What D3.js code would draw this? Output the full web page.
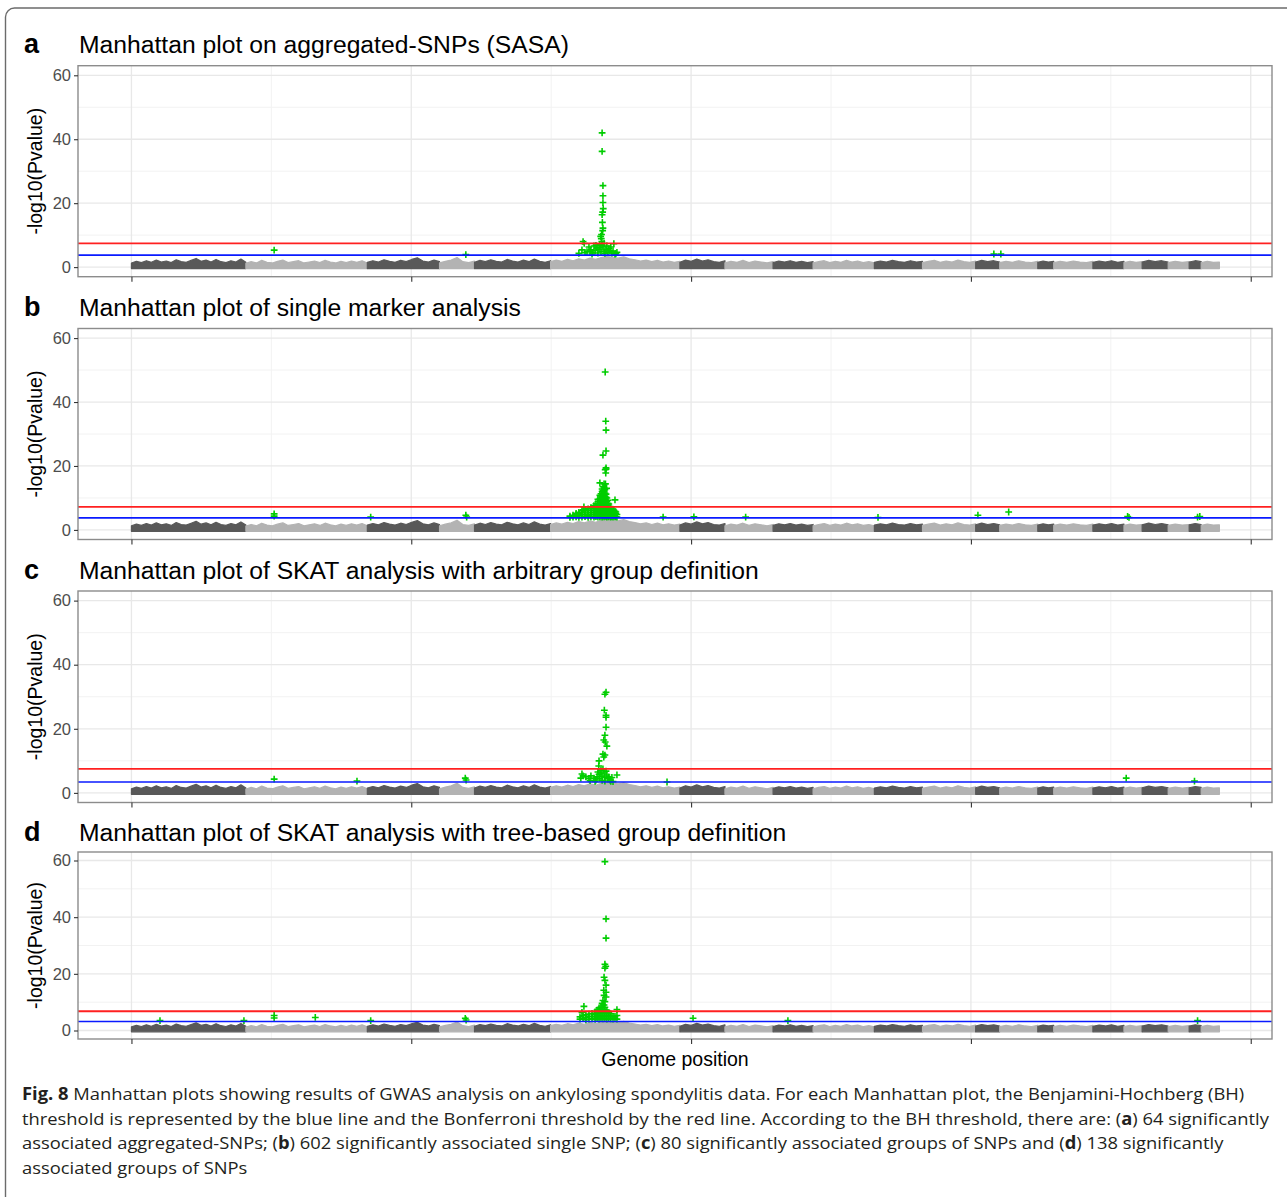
<!DOCTYPE html>
<html><head><meta charset="utf-8">
<script src="https://cdn.jsdelivr.net/npm/d3@7"></script>
<style>body{margin:0;background:#fff} svg{display:block}</style>
</head><body>
<svg id="chart" width="1287" height="1197"></svg>
<script>
// ---------------- DATA ----------------
const chromosomes = ["1","2","3","4","5","6","7","8","9","10","11","12","13","14","15","16","17","18","19","20","21","22"];
// number of markers per chromosome (thousands)
const chromSizes = [40.9, 43.4, 25.8, 12.5, 27.2, 46.2, 16.1, 17.2, 14.3, 21.9, 17.2, 19.0, 8.6, 13.6, 5.7, 14.0, 11.1, 6.5, 9.3, 7.5, 4.3, 6.5];
// upper envelope of the non-significant markers (-log10 p), sampled along each chromosome
const bandTop = [
  [1.3,1.8,1.4,2.0,1.5,2.2,1.6,1.9,1.4,2.3,1.7,1.5,2.1,2.7,1.8,2.2,1.6,2.4,1.7,1.4,2.0,1.6,2.5,1.5],
  [1.2,1.7,1.3,2.1,1.5,1.3,1.8,2.2,1.4,1.7,2.0,1.3,1.6,1.9,1.4,2.1,1.6,1.3,1.8,1.4,1.9,1.5,2.0,1.3],
  [1.5,2.0,1.6,2.3,1.8,1.5,2.1,1.7,2.4,2.9,1.9,1.6,2.2,1.7],
  [1.3,1.8,2.2,3.0,1.7,1.4,1.9],
  [1.5,2.1,1.7,2.3,1.8,1.6,2.4,1.9,1.6,2.2,1.7,2.5,1.8,1.5,2.0],
  [1.7,2.2,1.8,2.4,2.0,2.6,2.2,2.8,2.4,3.0,3.3,3.1,2.8,3.2,2.6,2.3,1.9,2.2,1.7,2.1,1.6,1.9,1.5,1.8],
  [1.5,2.2,1.8,2.5,1.9,2.3,1.7,1.5,2.0],
  [1.3,1.8,1.5,2.1,1.4,1.9,1.6,1.3,1.7],
  [1.4,1.9,1.6,2.0,1.5,1.8,1.4,1.7],
  [1.3,1.7,2.0,1.4,1.8,1.5,2.1,1.6,1.9,1.4,1.7,1.3],
  [1.5,1.9,1.6,2.1,1.7,1.5,2.0,1.6,1.8],
  [1.4,1.8,2.1,1.5,1.9,1.6,2.2,1.7,1.5,1.9],
  [1.6,2.1,1.7,2.0,1.6],
  [1.4,1.8,1.5,2.0,1.6,1.4,1.8],
  [1.5,1.9,1.6,1.8],
  [1.4,1.8,1.5,1.9,1.6,1.4,1.8],
  [1.5,1.9,1.6,2.0,1.5,1.8],
  [1.4,1.8,1.5,1.7],
  [1.6,2.1,1.7,2.0,1.6],
  [1.4,1.8,1.5,1.7],
  [1.6,2.0,1.7],
  [1.4,1.8,1.5,1.6]
];

const panelLetters = ["a","b","c","d"];
const panelTitles = [
  "Manhattan plot on aggregated-SNPs (SASA)",
  "Manhattan plot of single marker analysis",
  "Manhattan plot of SKAT analysis with arbitrary group definition",
  "Manhattan plot of SKAT analysis with tree-based group definition"
];
const bhThreshold   = [3.75, 3.75, 3.4, 3.2];
const bonfThreshold = [7.45, 7.2, 7.5, 6.8];

const yTicks = [0, 20, 40, 60];
const yMinor = [10, 30, 50];
const xTicks = [0, 100, 200, 300, 400];   // genome position (thousands of markers), labels blank
const xMinor = [50, 150, 250, 350];
const xLimits = [-19.1, 407.6];
const yLimits = [-3, 63];

// significant markers: [position, -log10 p]
const sigA = [
  [51.0,5.3],[119.5,3.9],[308.2,4.1],[310.7,4.1],
  [168.2,42.0],[168.2,36.2],[168.5,25.5],[168.5,22.3],[168.5,20.2],[168.6,18.3],[168.4,17.2],[168.2,16.4],
  [168.3,14.0],[168.5,12.2],[168.4,11.4],[168.0,10.2],[167.7,9.6],[167.9,8.9],[168.1,8.0],[161.4,8.0],
  [161.8,7.4],[163.5,6.3],[164.2,5.4],[165.3,6.6],[166.4,6.0],[167.4,7.0],[168.5,6.3],[169.9,6.6],
  [171.0,5.1],[171.3,6.3],[172.4,7.3],[173.1,4.2],[159.9,4.3],[161.0,5.4],[162.8,4.8],[163.9,5.0],
  [164.9,4.6],[165.7,5.2],[166.7,4.4],[167.1,5.6],[167.8,4.8],[168.9,5.0],[169.2,4.3],[169.6,5.5],
  [170.3,4.6],[170.6,5.8],[171.7,4.4],[172.1,5.0],[172.8,4.1],[173.5,4.6],[166.0,6.8],[167.4,6.2],
  [168.2,6.8],[168.9,7.4],[164.6,4.1],[162.1,4.5]
];
const sigB = [
  [51.0,5.0],[51.0,4.3],[85.5,4.0],[119.5,4.6],[119.8,4.0],[190.0,4.0],[201.0,4.1],[219.5,4.0],
  [266.8,3.9],[302.5,4.6],[313.5,5.6],[356.0,4.2],[356.5,3.9],[381.0,4.0],[381.8,4.2],
  [169.3,49.4],[169.5,34.0],[169.6,31.2],[169.6,24.7],[168.5,23.4],[169.6,19.4],[169.3,18.8],[169.5,17.8],
  [169.6,19.0],[167.4,14.7],[169.4,14.4],[169.8,13.0],[172.8,9.4],[161.7,7.2],[161.4,6.3]
];
// dense part of the single-marker peak: [position, values...]
const sigBCluster = [
  [156.7,3.9,4.3],[157.8,4.0,4.6],[158.9,4.1,4.8,5.2],[159.9,3.9,4.5,5.0,5.5],
  [161.0,4.0,4.7,5.4,6.0],[162.1,4.2,4.9,5.6,6.3],[163.2,3.9,4.6,5.3,6.0,6.6],
  [164.2,4.1,4.8,5.5,6.2,7.0],[165.3,4.0,4.7,5.4,6.1,6.8,7.6],[166.0,4.2,5.0,5.8,6.6,7.4,8.2],
  [166.7,4.0,4.8,5.6,6.4,7.2,8.0,8.9,9.6],[167.4,4.1,4.9,5.7,6.5,7.3,8.1,8.9,9.8,10.8],
  [167.8,4.3,5.3,6.3,7.3,8.3,9.3,10.3,11.3],[168.2,4.0,5.0,6.0,7.0,8.0,9.0,10.0,11.0,12.0,12.8],
  [168.5,4.4,5.4,6.4,7.4,8.4,9.4,10.4,11.4,12.4,13.5],[168.9,4.1,5.1,6.1,7.1,8.1,9.1,10.1,11.1,12.1,13.1,14.4],
  [169.2,4.5,5.5,6.5,7.5,8.5,9.5,10.5,11.5,12.6],[169.6,4.2,5.2,6.2,7.2,8.2,9.2,10.2,11.2],
  [169.9,4.0,5.0,6.0,7.0,8.0,9.0,10.0],[170.3,4.3,5.3,6.3,7.3,8.3,9.3],[170.6,4.1,5.1,6.1,7.1,8.1],
  [171.0,4.4,5.4,6.4,7.3],[171.3,4.0,5.0,6.0,6.9],[171.7,4.2,5.2,6.2],[172.1,4.0,5.0,5.9],
  [172.4,4.3,5.3,6.1],[172.8,4.1,5.1,5.8],[173.1,4.2,5.0,5.6],[173.5,4.0,4.8]
];
const sigC = [
  [51.0,4.3],[80.6,3.7],[119.3,4.6],[119.6,4.0],[191.4,3.4],[355.5,4.6],[379.9,3.7],
  [169.6,31.4],[169.2,30.8],[169.0,25.8],[169.6,24.2],[169.6,23.6],[169.6,20.5],[169.2,18.0],[168.8,16.5],
  [169.3,15.9],[169.9,14.6],[168.5,12.1],[169.2,11.8],[168.8,11.2],[167.1,10.0],[167.0,8.4],[167.8,7.1],
  [161.0,5.9],[161.4,5.3],[162.4,5.0],[163.5,4.4],[164.2,5.3],[165.3,4.6],[166.4,5.0],[167.1,5.8],
  [167.4,4.5],[168.2,5.2],[168.9,6.2],[169.2,4.8],[169.9,5.6],[170.3,4.4],[171.0,4.0],[171.3,3.6],
  [172.1,3.5],[173.5,5.6],[166.7,6.5],[168.5,7.5],[167.8,6.2],[169.6,6.8],[170.6,5.0],[160.6,4.6],
  [163.9,3.8],[165.7,3.6],[168.2,3.9],[169.2,3.7],[171.7,4.8],[166.0,4.0]
];
const sigD = [
  [10.2,3.5],[40.2,3.5],[51.0,5.3],[51.0,4.4],[65.7,4.6],[85.5,3.5],[119.3,4.3],[119.6,3.7],
  [200.7,4.3],[234.6,3.5],[381.0,3.5],
  [169.2,59.6],[169.6,39.4],[169.6,32.6],[169.2,23.4],[169.5,22.7],[169.2,22.0],[168.9,18.8],[169.2,17.7],
  [169.6,16.0],[168.8,14.2],[169.6,13.5],[168.9,12.4],[169.6,11.8],[168.5,10.6],[169.2,10.2],[168.2,9.6],
  [168.9,9.0],[161.7,8.5],[161.0,6.4],[173.5,7.4]
];
const sigDCluster = [
  [160.3,4.0,4.8],[161.4,4.2,5.2],[162.4,3.8,4.6,5.5],[163.5,4.0,4.9,5.8],[164.6,4.1,5.0,6.0],
  [165.7,3.9,4.8,5.7,6.6],[166.4,4.2,5.2,6.2,7.2],[167.1,4.0,5.0,6.0,7.0,8.0],[167.8,4.3,5.3,6.3,7.3,8.3],
  [168.5,4.1,5.1,6.1,7.1,8.1,9.0],[169.2,4.2,5.2,6.2,7.2,8.2],[169.9,4.0,5.0,6.0,7.0],[170.6,4.3,5.3,6.3],
  [171.3,4.1,5.1,5.9],[172.1,4.0,4.9],[172.8,4.2,5.0],[173.5,4.0,5.3]
];

const captionLines = [
  [["Fig. 8", true], [" Manhattan plots showing results of GWAS analysis on ankylosing spondylitis data. For each Manhattan plot, the Benjamini-Hochberg (BH)", false]],
  [["threshold is represented by the blue line and the Bonferroni threshold by the red line. According to the BH threshold, there are: (", false], ["a", true], [") 64 significantly", false]],
  [["associated aggregated-SNPs; (", false], ["b", true], [") 602 significantly associated single SNP; (", false], ["c", true], [") 80 significantly associated groups of SNPs and (", false], ["d", true], [") 138 significantly", false]],
  [["associated groups of SNPs", false]]
];

// ---------------- DRAW ----------------
const flatten = cl => cl.flatMap(c => c.slice(1).map(v => [c[0], v]));
const sigSets = [sigA, sigB.concat(flatten(sigBCluster)), sigC, sigD.concat(flatten(sigDCluster))];

const svg = d3.select("#chart");
const sansA = "'Liberation Sans', Arial, Helvetica, sans-serif";

svg.append("rect").attr("x", 5.5).attr("y", 8).attr("width", 1320).attr("height", 1230)
  .attr("rx", 9).attr("fill", "none").attr("stroke", "#6b6b6b").attr("stroke-width", 1.4);

const layout = [
  {top: 65.7, bottom: 276.7, title: 53},
  {top: 328.5, bottom: 539.5, title: 316},
  {top: 591.0, bottom: 802.5, title: 579},
  {top: 852.0, bottom: 1039.0, title: 841}
];
const left = 78, right = 1272;
const x = d3.scaleLinear().domain(xLimits).range([left, right]);

const offsets = [0];
chromSizes.forEach((s, i) => offsets.push(offsets[i] + s));
const darkGrey = "#595959", lightGrey = "#b3b3b3", green = "#00cd00";

layout.forEach((L, pi) => {
  const y = d3.scaleLinear().domain(yLimits).range([L.bottom, L.top]);
  const g = svg.append("g");

  // titles
  g.append("text").attr("x", 24).attr("y", L.title).attr("font-family", sansA)
    .attr("font-weight", "bold").attr("font-size", 27).attr("fill", "#000").text(panelLetters[pi]);
  g.append("text").attr("x", 79).attr("y", L.title).attr("font-family", sansA)
    .attr("font-size", 24.7).attr("fill", "#000").text(panelTitles[pi]);

  // grid
  const clipId = "clip" + pi;
  svg.append("clipPath").attr("id", clipId).append("rect")
    .attr("x", left).attr("y", L.top).attr("width", right - left).attr("height", L.bottom - L.top);
  const pg = g.append("g").attr("clip-path", `url(#${clipId})`);
  pg.selectAll(".hminor").data(yMinor).join("line")
    .attr("x1", left).attr("x2", right).attr("y1", d => y(d)).attr("y2", d => y(d))
    .attr("stroke", "#f2f2f2").attr("stroke-width", 1);
  pg.selectAll(".vminor").data(xMinor).join("line")
    .attr("y1", L.top).attr("y2", L.bottom).attr("x1", d => x(d)).attr("x2", d => x(d))
    .attr("stroke", "#f2f2f2").attr("stroke-width", 1);
  pg.selectAll(".hmajor").data(yTicks).join("line")
    .attr("x1", left).attr("x2", right).attr("y1", d => y(d)).attr("y2", d => y(d))
    .attr("stroke", "#e8e8e8").attr("stroke-width", 1.3);
  pg.selectAll(".vmajor").data(xTicks).join("line")
    .attr("y1", L.top).attr("y2", L.bottom).attr("x1", d => x(d)).attr("x2", d => x(d))
    .attr("stroke", "#e8e8e8").attr("stroke-width", 1.3);

  // background markers (chromosome bands)
  const area = d3.area().x(d => x(d[0])).y0(y(-0.45)).y1(d => y(d[1])).curve(d3.curveLinear);
  chromosomes.forEach((c, ci) => {
    const start = offsets[ci], size = chromSizes[ci], vals = bandTop[ci];
    const pts = vals.map((v, j) => [start + size * j / (vals.length - 1), v]);
    const col = ci % 2 === 0 ? darkGrey : lightGrey;
    pg.append("path").datum(pts).attr("d", area).attr("fill", col)
      .attr("stroke", col).attr("stroke-width", 1.2).attr("stroke-linejoin", "round");
  });

  // significant markers
  pg.selectAll(".sig").data(sigSets[pi]).join("path")
    .attr("d", "M-3.4,0H3.4M0,-3.4V3.4")
    .attr("transform", d => `translate(${x(d[0])},${y(d[1])})`)
    .attr("stroke", green).attr("stroke-width", 1.6).attr("fill", "none");

  // thresholds
  pg.append("line").attr("x1", left).attr("x2", right)
    .attr("y1", y(bonfThreshold[pi])).attr("y2", y(bonfThreshold[pi]))
    .attr("stroke", "#ff2020").attr("stroke-width", 1.8);
  pg.append("line").attr("x1", left).attr("x2", right)
    .attr("y1", y(bhThreshold[pi])).attr("y2", y(bhThreshold[pi]))
    .attr("stroke", "#0a1aff").attr("stroke-width", 1.6);

  // border
  g.append("rect").attr("x", left).attr("y", L.top).attr("width", right - left).attr("height", L.bottom - L.top)
    .attr("fill", "none").attr("stroke", "#8c8c8c").attr("stroke-width", 1.4);

  // axes
  const ya = d3.axisLeft(y).tickValues(yTicks).tickSize(4).tickPadding(3);
  const yg = g.append("g").attr("transform", `translate(${left},0)`).call(ya);
  yg.select(".domain").remove();
  yg.selectAll(".tick line").attr("stroke", "#333").attr("stroke-width", 1.1);
  yg.selectAll(".tick text").attr("font-family", sansA).attr("font-size", 16.5).attr("fill", "#4d4d4d");

  const xa = d3.axisBottom(x).tickValues(xTicks).tickSize(5).tickFormat("");
  const xg = g.append("g").attr("transform", `translate(0,${L.bottom})`).call(xa);
  xg.select(".domain").remove();
  xg.selectAll(".tick line").attr("stroke", "#333").attr("stroke-width", 1.1);

  // y title
  g.append("text").attr("transform", `translate(42,${(L.top + L.bottom) / 2}) rotate(-90)`)
    .attr("text-anchor", "middle").attr("font-family", sansA).attr("font-size", 19.5).attr("fill", "#000")
    .text("-log10(Pvalue)");
});

svg.append("text").attr("x", 675).attr("y", 1066).attr("text-anchor", "middle")
  .attr("font-family", sansA).attr("font-size", 19.5).attr("fill", "#000").text("Genome position");

// caption
const capFont = "'Open Sans', 'Noto Sans', sans-serif";
const capG = svg.append("g");
const capTexts = captionLines.map((line, li) => {
  const t = capG.append("text").attr("x", 0).attr("y", 0)
    .attr("transform", `translate(22,${1100 + li * 24.6})`)
    .attr("font-family", capFont).attr("font-size", 17.2).attr("fill", "#231f20");
  line.forEach(([s, b]) => t.append("tspan").attr("font-weight", b ? "bold" : "normal").text(s));
  return t;
});
const w0 = capTexts[0].node().getComputedTextLength();
const k = 1222 / w0;
capTexts.forEach((t, li) => t.attr("transform", `translate(22,${1100 + li * 24.6}) scale(${k},1)`));
</script>
</body></html>
